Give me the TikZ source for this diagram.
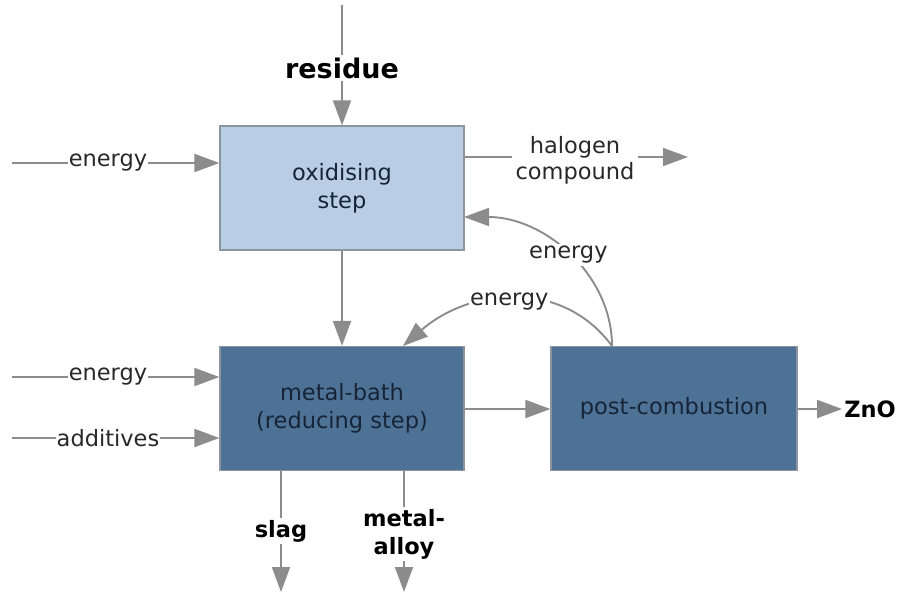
\documentclass[tikz,border=0pt]{standalone}
\usepackage{fontspec}
\setmainfont{DejaVu Sans}
\usetikzlibrary{arrows.meta}
\definecolor{lightbox}{RGB}{185,205,228}
\definecolor{darkbox}{RGB}{78,114,150}
\definecolor{flowc}{RGB}{140,140,140}
\definecolor{edgec}{RGB}{140,148,158}
\definecolor{boxtext}{RGB}{22,36,56}
\definecolor{labeltext}{RGB}{40,40,40}
\begin{document}
\begin{tikzpicture}[x=1pt,y=-1pt,
  box/.style={draw=edgec, line width=1.2pt, minimum width=244pt, minimum height=124pt, inner sep=0pt, text=boxtext, font=\fontsize{22.5}{28}\selectfont, align=center},
  lab/.style={font=\fontsize{22.5}{26}\selectfont, text=labeltext, inner sep=1pt, align=center},
  blab/.style={font=\fontsize{22.5}{28}\selectfont\bfseries, text=black, inner sep=2pt, align=center},
  flow/.style={draw=flowc, line width=1.9pt},
  arr/.style={flow, -{Triangle[length=25pt,width=18pt]}}]
\useasboundingbox (0,0) rectangle (898,594);

% boxes
\node[box, fill=lightbox] (ox) at (342,188) {oxidising\\step};
\node[box, fill=darkbox] (mb) at (342,408.5) {metal-bath\\(reducing step)};
\node[box, fill=darkbox, minimum width=246pt] (pc) at (674,408.5) {post-combustion};

% residue
\coordinate (rtop) at (342,5);
\node[blab, font=\fontsize{27}{31}\selectfont\bfseries] (res) at (342,68) {residue};
\draw[flow] (rtop) -- (res.north);
\draw[arr] (res.south) -- (ox.north);

% energy into oxidising
\coordinate (e1s) at (12,163);
\node[lab] (e1) at (108,163) {energy};
\draw[flow] (e1s) -- (e1.west);
\draw[arr] (e1.east) -- (e1.east -| ox.west);

% halogen compound
\node[lab, inner sep=3pt] (hal) at (575,160) {halogen\\compound};
\coordinate (halend) at (688,157);
\draw[flow] (ox.east |- 0,157) -- (hal.west |- 0,157);
\draw[arr] (hal.east |- 0,157) -- (halend);

% oxidising -> metal bath
\draw[arr] (ox.south) -- (mb.north);

% energy + additives into metal bath
\coordinate (e2s) at (12,377);
\node[lab] (e2) at (108,377) {energy};
\draw[flow] (e2s) -- (e2.west);
\draw[arr] (e2.east) -- (e2.east -| mb.west);
\coordinate (ads) at (12,438);
\node[lab] (ad) at (108,438) {additives};
\draw[flow] (ads) -- (ad.west);
\draw[arr] (ad.east) -- (ad.east -| mb.west);

% metal bath -> post-combustion
\draw[arr] (mb.east |- 0,409) -- (pc.west |- 0,409);

% ZnO
\node[blab] (zno) at (870,409) {ZnO};
\draw[arr] (pc.east |- 0,409) -- (zno.west);

% energy feedback curves
\coordinate (pctop) at (612,346);
\coordinate (oxin) at (464,217);
\coordinate (mbin) at (403,346);
\draw[arr] (pctop) .. controls (612,275) and (545,217) .. (oxin)
  node[lab, fill=white, pos=0.5, inner sep=2pt] (e3) {energy};
\draw[arr] (pctop) .. controls (562,278) and (470,288) .. (mbin)
  node[lab, fill=white, pos=0.52, inner sep=1pt, yshift=-3pt] (e4) {energy};

% slag
\node[blab] (slag) at (281,531) {slag};
\coordinate (slagend) at (281,592);
\draw[flow] (mb.south -| slag) -- (slag.north);
\draw[arr] (slag.south) -- (slagend);

% metal-alloy
\node[blab, font=\fontsize{22.5}{28}\selectfont\bfseries] (ma) at (404,534) {metal-\\alloy};
\coordinate (maend) at (404,592);
\draw[flow] (mb.south -| ma) -- (ma.north);
\draw[arr] (ma.south) -- (maend);
\end{tikzpicture}
\end{document}
